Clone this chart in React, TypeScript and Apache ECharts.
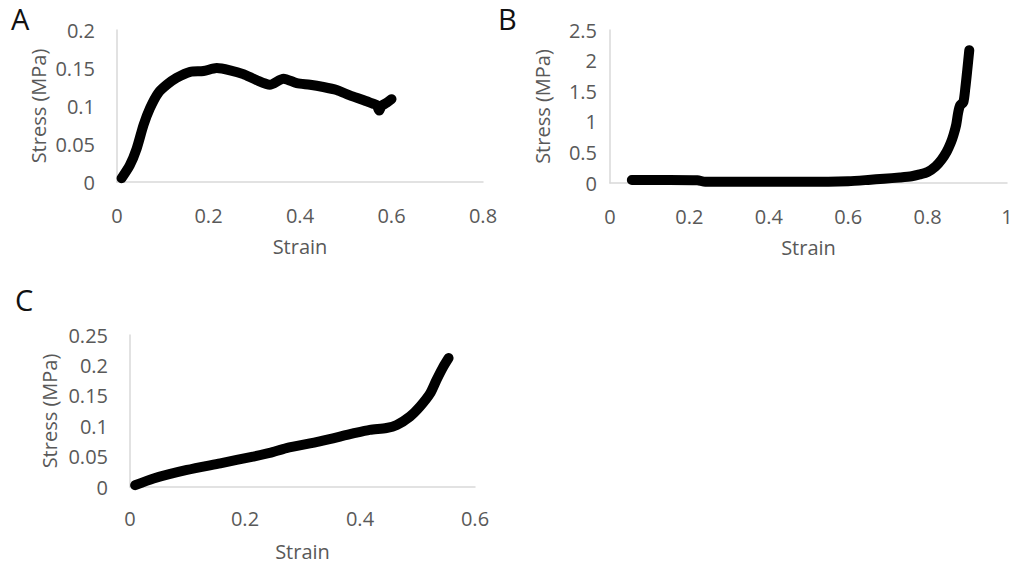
import React, { useEffect, useRef } from "react";
import * as echarts from "echarts";

// Panel A
const strainA = [0.010, 0.028, 0.043, 0.058, 0.072, 0.090, 0.109, 0.130, 0.160, 0.189, 0.218, 0.247, 0.276, 0.305, 0.334, 0.364, 0.393, 0.422, 0.451, 0.480, 0.509, 0.538, 0.560, 0.568, 0.573, 0.578, 0.589, 0.600];
const stressA = [0.005, 0.022, 0.044, 0.075, 0.097, 0.117, 0.128, 0.137, 0.145, 0.146, 0.150, 0.147, 0.142, 0.134, 0.128, 0.136, 0.130, 0.128, 0.125, 0.121, 0.114, 0.108, 0.103, 0.101, 0.094, 0.100, 0.104, 0.109];

// Panel B
const strainB = [0.055, 0.10, 0.15, 0.22, 0.24, 0.30, 0.40, 0.50, 0.60, 0.65, 0.69, 0.73, 0.76, 0.78, 0.80, 0.82, 0.835, 0.848, 0.858, 0.865, 0.872, 0.877, 0.882, 0.89, 0.895, 0.90, 0.905];
const stressB = [0.05, 0.05, 0.05, 0.045, 0.02, 0.02, 0.02, 0.02, 0.03, 0.05, 0.07, 0.09, 0.11, 0.14, 0.18, 0.27, 0.38, 0.51, 0.65, 0.78, 0.95, 1.15, 1.27, 1.32, 1.55, 1.85, 2.17];

// Panel C
const strainC = [0.009, 0.041, 0.099, 0.157, 0.214, 0.243, 0.272, 0.330, 0.388, 0.417, 0.446, 0.464, 0.487, 0.504, 0.522, 0.533, 0.545, 0.554];
const stressC = [0.003, 0.014, 0.028, 0.039, 0.050, 0.056, 0.064, 0.075, 0.088, 0.094, 0.097, 0.102, 0.116, 0.132, 0.154, 0.176, 0.198, 0.212];

const panelLetters = ["A", "B", "C"];
const xAxisName = "Strain";
const yAxisName = "Stress (MPa)";

const FONT = "'Open Sans', sans-serif";
const GREY = "#595959";
const AXIS = "#d9d9d9";

function pairs(xs: number[], ys: number[]) {
  return xs.map((x, i) => [x, ys[i]]);
}

export default function App() {
  const ref = useRef<HTMLDivElement>(null);
  useEffect(() => {
    if (!ref.current) return;
    const chart = echarts.init(ref.current, undefined, { renderer: "svg" });
    const grids = [
      { left: 117, top: 30, width: 366, height: 152 },
      { left: 610, top: 30, width: 397, height: 153 },
      { left: 130, top: 335, width: 345, height: 152 },
    ];
    const xCfg = [
      { max: 0.8, labelMargin: 23, nameGap: 54 },
      { max: 1, labelMargin: 23, nameGap: 54 },
      { max: 0.6, labelMargin: 21, nameGap: 54 },
    ];
    const yCfg = [
      { max: 0.2, interval: 0.05, labelMargin: 22, nameGap: 69 },
      { max: 2.5, interval: 0.5, labelMargin: 13, nameGap: 58 },
      { max: 0.25, interval: 0.05, labelMargin: 22, nameGap: 71 },
    ];
    const labelStyle = { color: GREY, fontFamily: FONT, fontSize: 20 };
    const option: any = {
      animation: false,
      grid: grids.map((g) => ({ ...g, containLabel: false })),
      xAxis: xCfg.map((c, i) => ({
        type: "value",
        gridIndex: i,
        min: 0,
        max: c.max,
        interval: 0.2,
        name: xAxisName,
        nameLocation: "middle",
        nameGap: c.nameGap,
        nameTextStyle: labelStyle,
        axisLine: { show: true, lineStyle: { color: AXIS, width: 1.5 } },
        axisTick: { show: false },
        splitLine: { show: false },
        axisLabel: { ...labelStyle, margin: c.labelMargin },
      })),
      yAxis: yCfg.map((c, i) => ({
        type: "value",
        gridIndex: i,
        min: 0,
        max: c.max,
        interval: c.interval,
        name: yAxisName,
        nameLocation: "middle",
        nameGap: c.nameGap,
        nameTextStyle: labelStyle,
        axisLine: { show: true, lineStyle: { color: AXIS, width: 1.5 } },
        axisTick: { show: false },
        splitLine: { show: false },
        axisLabel: { ...labelStyle, margin: c.labelMargin },
      })),
      series: [
        pairs(strainA, stressA),
        pairs(strainB, stressB),
        pairs(strainC, stressC),
      ].map((d, i) => ({
        type: "line",
        xAxisIndex: i,
        yAxisIndex: i,
        data: d,
        showSymbol: false,
        symbol: "none",
        smooth: 0.25,
        lineStyle: { color: "#000", width: 10, cap: "round", join: "round" },
      })),
      graphic: [
        { type: "text", left: 11, top: 4, style: { text: panelLetters[0], fontSize: 29, fontFamily: FONT, fill: "#111" } },
        { type: "text", left: 498, top: 4, style: { text: panelLetters[1], fontSize: 29, fontFamily: FONT, fill: "#111" } },
        { type: "text", left: 15, top: 285, style: { text: panelLetters[2], fontSize: 29, fontFamily: FONT, fill: "#111" } },
      ],
    };
    chart.setOption(option);
    return () => chart.dispose();
  }, []);
  return (
    <div
      ref={ref}
      style={{ position: "fixed", left: 0, top: 0, width: 1024, height: 567, background: "#fff" }}
    />
  );
}
